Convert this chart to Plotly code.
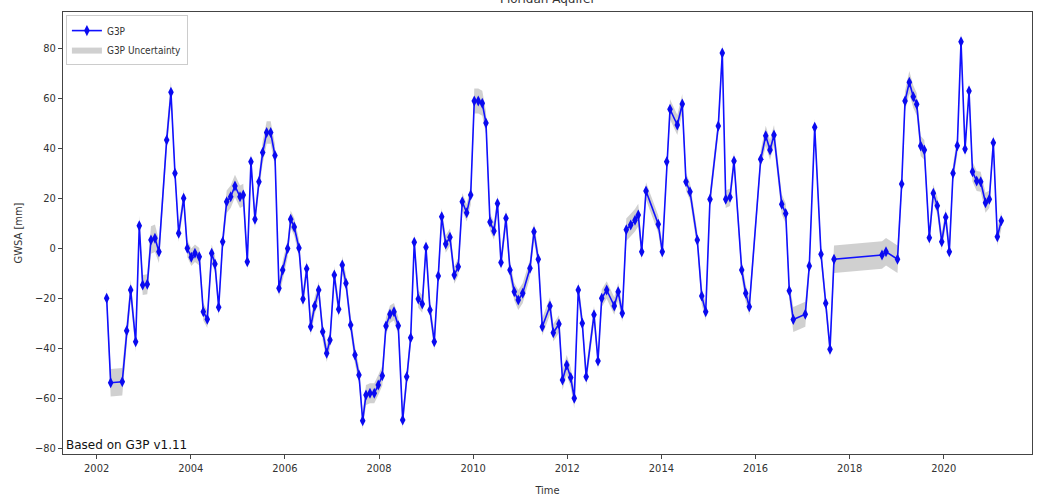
import plotly.graph_objects as go

# ---- data (decimal year, GWSA in mm, uncertainty in mm) ----
time_years = [
    2002.213, 2002.298, 2002.544, 2002.638, 2002.723, 2002.829, 2002.906, 2002.978, 2003.076, 2003.154,
    2003.239, 2003.324, 2003.488, 2003.579, 2003.664, 2003.743, 2003.849, 2003.926, 2004.011, 2004.089,
    2004.181, 2004.266, 2004.351, 2004.444, 2004.514, 2004.593, 2004.678, 2004.763, 2004.848, 2004.939,
    2005.046, 2005.116, 2005.201, 2005.279, 2005.364, 2005.449, 2005.528, 2005.613, 2005.698, 2005.789,
    2005.874, 2005.953, 2006.059, 2006.123, 2006.199, 2006.299, 2006.384, 2006.463, 2006.548, 2006.633,
    2006.718, 2006.803, 2006.888, 2006.958, 2007.050, 2007.143, 2007.219, 2007.298, 2007.398, 2007.489,
    2007.574, 2007.653, 2007.723, 2007.808, 2007.899, 2007.984, 2008.069, 2008.148, 2008.233, 2008.318,
    2008.409, 2008.503, 2008.588, 2008.673, 2008.749, 2008.834, 2008.919, 2008.998, 2009.083, 2009.174,
    2009.259, 2009.332, 2009.417, 2009.508, 2009.599, 2009.684, 2009.769, 2009.863, 2009.948, 2010.024,
    2010.109, 2010.194, 2010.273, 2010.358, 2010.443, 2010.517, 2010.592, 2010.698, 2010.783, 2010.874,
    2010.959, 2011.053, 2011.208, 2011.293, 2011.384, 2011.469, 2011.633, 2011.703, 2011.824, 2011.899,
    2011.988, 2012.073, 2012.149, 2012.234, 2012.319, 2012.402, 2012.568, 2012.653, 2012.732, 2012.838,
    2012.999, 2013.082, 2013.169, 2013.254, 2013.348, 2013.439, 2013.509, 2013.582, 2013.673, 2013.934,
    2014.019, 2014.113, 2014.183, 2014.338, 2014.444, 2014.523, 2014.608, 2014.763, 2014.857, 2014.942,
    2015.033, 2015.209, 2015.294, 2015.367, 2015.458, 2015.543, 2015.707, 2015.792, 2015.868, 2016.110,
    2016.217, 2016.308, 2016.393, 2016.557, 2016.642, 2016.718, 2016.803, 2017.058, 2017.143, 2017.258,
    2017.392, 2017.492, 2017.583, 2017.668, 2018.688, 2018.773, 2019.017, 2019.106, 2019.177, 2019.268,
    2019.353, 2019.425, 2019.510, 2019.587, 2019.693, 2019.778, 2019.863, 2019.957, 2020.042, 2020.118,
    2020.197, 2020.288, 2020.367, 2020.452, 2020.537, 2020.611, 2020.700, 2020.785, 2020.887, 2020.968,
    2021.053, 2021.138, 2021.223,
]

gwsa_mm = [
    -20.0, -53.8, -53.4, -33.0, -16.7, -37.4, 9.0, -14.7, -14.4, 3.3,
    4.0, -1.4, 43.3, 62.4, 30.0, 6.0, 20.0, 0.0, -3.6, -2.0,
    -3.4, -25.4, -28.4, -2.0, -6.3, -23.6, 2.6, 18.6, 20.6, 24.9,
    20.6, 21.3, -5.4, 34.6, 11.6, 26.6, 38.3, 46.3, 46.3, 37.1,
    -16.0, -8.7, -0.1, 11.6, 8.5, 0.1, -20.3, -8.2, -31.4, -23.1,
    -16.7, -33.4, -42.0, -36.7, -10.7, -24.4, -6.7, -14.0, -30.7, -42.7,
    -50.7, -69.0, -58.7, -58.0, -58.0, -54.7, -51.0, -31.1, -26.4, -25.4,
    -31.0, -68.7, -51.4, -35.8, 2.4, -20.3, -22.3, 0.4, -24.7, -37.4,
    -11.1, 12.6, 1.7, 4.4, -10.7, -7.4, 18.6, 14.2, 21.3, 58.9,
    58.9, 58.0, 50.1, 10.5, 6.9, 17.9, -5.7, 12.0, -8.7, -17.4,
    -20.7, -18.0, -8.0, 6.6, -4.4, -31.4, -23.1, -33.8, -30.3, -52.7,
    -46.7, -51.7, -60.0, -16.7, -30.0, -51.4, -26.6, -45.1, -20.0, -16.7,
    -23.1, -17.4, -26.0, 7.4, 9.3, 11.2, 13.3, -1.4, 22.9, 9.6,
    -1.4, 34.6, 55.6, 49.3, 57.7, 26.6, 22.6, 3.3, -19.1, -25.4,
    19.6, 48.9, 78.1, 19.6, 20.4, 34.9, -8.7, -18.0, -23.4, 35.6,
    45.0, 39.3, 45.3, 17.6, 13.9, -17.0, -28.5, -26.4, -7.1, 48.4,
    -2.4, -22.0, -40.4, -4.4, -2.7, -1.4, -4.4, 25.7, 58.9, 66.4,
    60.6, 57.6, 40.9, 39.3, 4.2, 22.0, 17.0, 2.6, 12.4, -1.4,
    30.0, 41.0, 82.6, 39.7, 62.9, 30.6, 26.9, 26.6, 18.2, 19.6,
    42.2, 4.6, 11.0,
]

uncertainty_mm = [
    4.0, 5.5, 5.5, 4.0, 4.0, 4.0, 4.0, 4.0, 4.0, 5.5,
    5.5, 4.5, 4.5, 4.5, 3.5, 3.5, 3.5, 3.5, 3.5, 3.5,
    3.5, 3.5, 3.5, 3.5, 3.5, 3.5, 3.5, 4.5, 4.5, 4.5,
    4.5, 4.5, 3.5, 3.5, 3.5, 3.5, 4.5, 4.5, 4.5, 4.5,
    3.5, 3.5, 3.5, 3.5, 3.5, 3.5, 3.5, 3.5, 3.5, 3.5,
    3.5, 3.5, 3.5, 3.5, 3.5, 3.5, 3.5, 3.5, 3.5, 3.5,
    3.5, 3.5, 4.0, 4.0, 4.0, 4.0, 4.0, 3.5, 3.5, 3.5,
    3.5, 3.5, 3.5, 3.5, 3.5, 3.5, 3.5, 3.5, 3.5, 3.5,
    3.5, 3.5, 3.5, 3.5, 3.5, 3.5, 3.5, 3.5, 4.0, 5.0,
    5.0, 5.0, 4.5, 3.5, 3.5, 3.5, 3.5, 3.5, 3.5, 3.5,
    4.0, 4.0, 3.5, 3.5, 3.5, 3.5, 3.5, 3.5, 3.5, 4.0,
    4.0, 4.0, 4.0, 3.5, 3.5, 3.5, 3.5, 3.5, 3.5, 3.5,
    3.5, 3.5, 3.5, 4.5, 4.5, 4.5, 4.5, 3.5, 3.5, 3.5,
    3.5, 3.5, 4.0, 4.0, 4.0, 3.5, 3.5, 3.5, 3.5, 3.5,
    3.5, 3.5, 4.0, 3.5, 3.5, 3.5, 3.5, 3.5, 3.5, 3.5,
    4.0, 4.0, 4.0, 4.0, 4.0, 3.5, 5.0, 5.0, 3.5, 3.5,
    3.5, 3.5, 3.5, 5.5, 5.5, 5.5, 5.5, 3.5, 4.0, 4.5,
    4.5, 4.5, 4.0, 4.0, 3.5, 3.5, 3.5, 3.5, 3.5, 3.5,
    3.5, 3.5, 4.0, 3.5, 3.5, 4.0, 4.0, 4.0, 4.0, 3.5,
    3.5, 3.5, 3.5,
]

x_tick_years = [2002, 2004, 2006, 2008, 2010, 2012, 2014, 2016, 2018, 2020]
x_tick_labels = ["2002", "2004", "2006", "2008", "2010", "2012", "2014", "2016", "2018", "2020"]
y_ticks = [-80, -60, -40, -20, 0, 20, 40, 60, 80]

upper = [v + u for v, u in zip(gwsa_mm, uncertainty_mm)]
lower = [v - u for v, u in zip(gwsa_mm, uncertainty_mm)]

TICK_FONT = dict(family="DejaVu Sans Condensed, DejaVu Sans, sans-serif", size=11, color="#333333")
LABEL_FONT = dict(family="DejaVu Sans Condensed, DejaVu Sans, sans-serif", size=11, color="#333333")

fig = go.Figure()

fig.add_trace(go.Scatter(
    x=time_years, y=upper, mode="lines",
    line=dict(width=0, color="rgba(150,150,150,0.5)"),
    showlegend=False, hoverinfo="skip",
))
fig.add_trace(go.Scatter(
    x=time_years, y=lower, mode="lines",
    line=dict(width=0, color="rgba(150,150,150,0.5)"),
    fill="tonexty", fillcolor="rgba(150,150,150,0.45)",
    name="G3P Uncertainty", legendrank=2,
))
fig.add_trace(go.Scatter(
    x=time_years, y=gwsa_mm, mode="lines+markers",
    line=dict(color="#1010ff", width=1.6),
    marker=dict(symbol="diamond-tall", size=8, color="#0a0af0", line=dict(width=0)),
    name="G3P", legendrank=1,
))

fig.update_layout(
    width=1040, height=501,
    margin=dict(l=63, r=8, t=12, b=47),
    paper_bgcolor="white", plot_bgcolor="white",
    showlegend=True,
    legend=dict(
        x=0.003, y=0.993, xanchor="left", yanchor="top",
        traceorder="normal",
        bgcolor="rgba(255,255,255,0.85)", bordercolor="#cccccc", borderwidth=1,
        font=dict(family="DejaVu Sans Condensed, DejaVu Sans, sans-serif", size=10, color="#333333"),
        tracegroupgap=0, itemwidth=30,
    ),
    xaxis=dict(
        range=[2001.285, 2021.875], automargin=False,
        tickmode="array", tickvals=x_tick_years, ticktext=x_tick_labels,
        showgrid=False, zeroline=False,
        showline=True, linecolor="#444444", linewidth=1, mirror=True,
        ticks="outside", ticklen=4, tickcolor="#444444",
        tickfont=TICK_FONT,
        title=dict(text="Time", font=LABEL_FONT, standoff=12),
    ),
    yaxis=dict(
        range=[-82.3, 94.5], automargin=False,
        tickmode="array", tickvals=y_ticks,
        showgrid=False, zeroline=False,
        showline=True, linecolor="#444444", linewidth=1, mirror=True,
        ticks="outside", ticklen=4, tickcolor="#444444",
        tickfont=TICK_FONT,
        title=dict(text="GWSA [mm]", font=LABEL_FONT, standoff=10),
    ),
    annotations=[
        dict(text="Floridan Aquifer", xref="paper", yref="paper", x=0.5, y=1,
             xanchor="center", yanchor="bottom", yshift=4, showarrow=False,
             font=dict(family="DejaVu Sans, sans-serif", size=12, color="#333333")),
        dict(text="Based on G3P v1.11", xref="paper", yref="paper", x=0, y=0,
             xanchor="left", yanchor="bottom", xshift=1, yshift=0, showarrow=False,
             font=dict(family="DejaVu Sans, sans-serif", size=12, color="#111111")),
    ],
)

fig.write_html("out.html", config={"displayModeBar": False},
               post_script="document.body.style.margin='0px';")
